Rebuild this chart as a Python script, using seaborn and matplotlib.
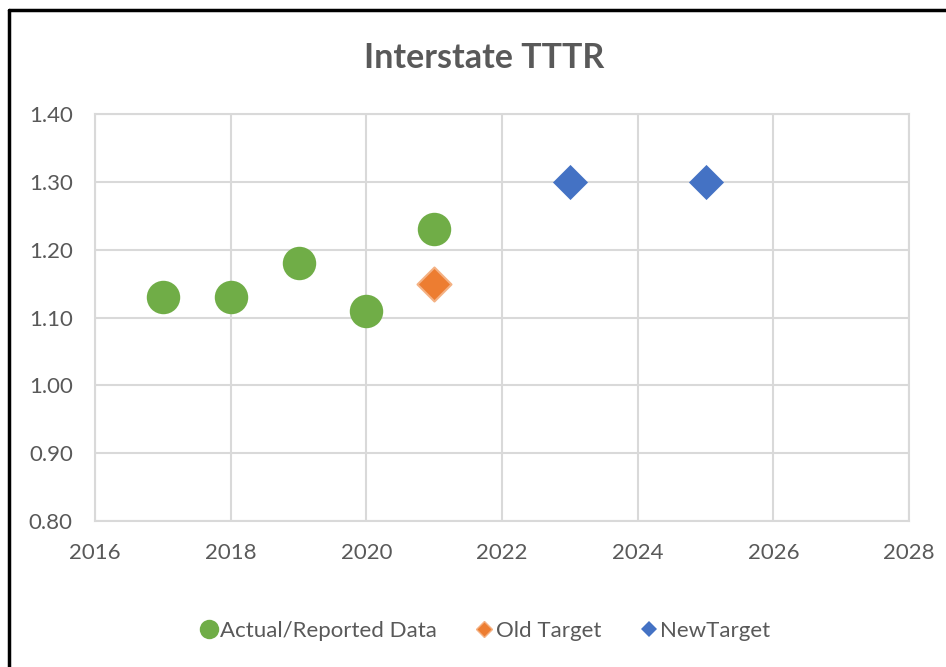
import numpy as np
import pandas as pd
import matplotlib
matplotlib.use("Agg")
import matplotlib.pyplot as plt
from matplotlib.lines import Line2D
import seaborn as sns

# ── Data ──
actual_years = [2017, 2018, 2019, 2020, 2021]
actual_vals = [1.13, 1.13, 1.18, 1.11, 1.23]
old_years = [2021]
old_vals = [1.15]
new_years = [2023, 2025]
new_vals = [1.30, 1.30]

x_ticks = [2016, 2018, 2020, 2022, 2024, 2026, 2028]
y_ticks = [0.80, 0.90, 1.00, 1.10, 1.20, 1.30, 1.40]

GREEN = '#70AD47'
ORANGE = '#ED7D31'
BLUE = '#4472C4'
GRID = '#D9D9D9'
TXT = '#595959'

sns.set_style("white")
plt.rcParams['font.family'] = ['Lato', 'DejaVu Sans']

fig = plt.figure(figsize=(9.46, 6.67), dpi=100)
ax = fig.add_axes([0.1004, 0.2189, 0.961 - 0.1004, 0.829 - 0.2189])

sns.scatterplot(x=actual_years, y=actual_vals, s=580, color=GREEN,
                marker='o', linewidth=0, ax=ax, zorder=3)
sns.scatterplot(x=old_years, y=old_vals, s=300, color=ORANGE,
                marker='D', edgecolor='#F4B183', linewidth=1.5, ax=ax, zorder=3)
sns.scatterplot(x=new_years, y=new_vals, s=320, color=BLUE,
                marker='D', linewidth=0, ax=ax, zorder=3)

ax.set_xlim(2016, 2028)
ax.set_ylim(0.80, 1.40)
ax.set_xticks(x_ticks)
ax.set_yticks(y_ticks)
ax.set_yticklabels([f'{v:.2f}' for v in y_ticks])
ax.grid(True, color=GRID, linewidth=1.5)
ax.set_axisbelow(True)
for sp in ax.spines.values():
    sp.set_color(GRID)
    sp.set_linewidth(1.5)
ax.tick_params(axis='both', length=0, labelsize=16, labelcolor=TXT)
ax.tick_params(axis='x', pad=16)
ax.tick_params(axis='y', pad=16)

fig.text(0.512, 0.913, 'Interstate TTTR', ha='center', va='center',
         fontsize=24.5, fontweight='bold', color=TXT)

handles = [
    Line2D([], [], marker='o', linestyle='none', markersize=14,
           markerfacecolor=GREEN, markeredgewidth=0, label='Actual/Reported Data'),
    Line2D([], [], marker='D', linestyle='none', markersize=8.5,
           markerfacecolor=ORANGE, markeredgecolor='#F4B183', markeredgewidth=1,
           label='Old Target'),
    Line2D([], [], marker='D', linestyle='none', markersize=8.5,
           markerfacecolor=BLUE, markeredgewidth=0, label='NewTarget'),
]
leg = fig.legend(handles=handles, loc='center', bbox_to_anchor=(0.512, 0.054),
                 ncol=3, frameon=False, fontsize=16, handletextpad=0.05,
                 columnspacing=1.7, handlelength=0.9)
for t in leg.get_texts():
    t.set_color(TXT)

# partial black border (left and top edges of the frame)
fig.add_artist(Line2D([9 / 946, 9 / 946], [0, 1 - 10 / 667], color='black',
                      linewidth=2.5, transform=fig.transFigure))
fig.add_artist(Line2D([9 / 946, 1], [1 - 10 / 667, 1 - 10 / 667], color='black',
                      linewidth=2.5, transform=fig.transFigure))

fig.savefig('out.png', dpi=100, facecolor='white')
